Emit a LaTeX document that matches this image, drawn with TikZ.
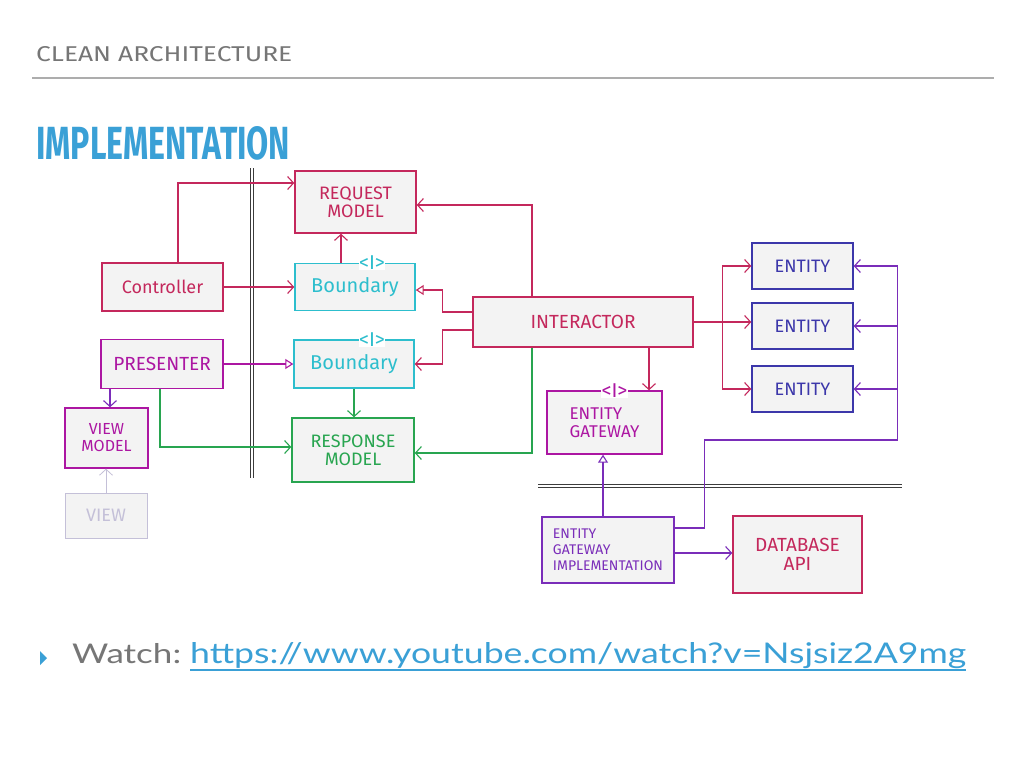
\documentclass[tikz,border=0pt]{standalone}
\usepackage{fontspec}
\usepackage{graphicx}
\setmainfont{Fira Sans}
\newfontfamily\slidefont{Lato}
\usetikzlibrary{arrows.meta, positioning}
\definecolor{crim}{RGB}{196, 40, 92}
\definecolor{cyanb}{RGB}{45, 190, 205}
\definecolor{magb}{RGB}{172, 22, 162}
\definecolor{purp}{RGB}{122, 45, 185}
\definecolor{indigob}{RGB}{60, 55, 170}
\definecolor{greenb}{RGB}{40, 165, 80}
\definecolor{viewgray}{RGB}{196, 192, 216}
\definecolor{boxgray}{RGB}{243, 243, 243}
\definecolor{titleblue}{RGB}{58, 160, 214}
\definecolor{headgray}{RGB}{118, 118, 118}
\definecolor{darkline}{RGB}{60, 60, 60}

\tikzset{
  handbox/.style={draw=#1, text=#1, fill=boxgray, line width=1.4pt, align=center, inner sep=2pt},
  boxsize/.style 2 args={minimum width=#1, minimum height=#2},
  wire/.style={line width=1.1pt, -{Straight Barb[length=6pt,width=13pt]}},
  implements/.style={line width=1.1pt, -{Triangle[open,length=8pt,width=10pt]}},
  iface/.style={text=#1, font=\fontsize{20}{20}\selectfont, inner sep=0.5pt, fill=white},
}

\begin{document}
\begin{tikzpicture}[x=1pt, y=-1pt]
\useasboundingbox (0,0) rectangle (1024,768);
\fill[white] (0,0) rectangle (1024,768);

% Slide header
\node[anchor=west, text=headgray, inner sep=0] (head) at (36,54.5) {\resizebox{256pt}{15pt}{CLEAN ARCHITECTURE}};
\draw[headgray!60, line width=2pt] (32,78) -- (994,78);
\node[anchor=west, text=titleblue, inner sep=0] (title) at (36,143.5) {\resizebox{254pt}{33pt}{\bfseries IMPLEMENTATION}};

% Boundary lines
\draw[darkline, double, double distance=2.4pt, line width=0.9pt] (252,168) -- (252,478);
\draw[darkline, double, double distance=2.4pt, line width=0.9pt] (538,486) -- (902,486);

% Left side
\node[handbox=crim, boxsize={121pt}{48pt}, font=\fontsize{18}{19}\selectfont] (ctrl) at (162.5,287) {Controller};
\node[handbox=magb, boxsize={122pt}{49pt}, font=\fontsize{19}{20}\selectfont] (pres) at (162,364) {PRESENTER};
\node[handbox=magb, boxsize={83pt}{60pt}, font=\fontsize{16}{17}\selectfont] (vm) at (106.5,438) {VIEW\\MODEL};
\node[handbox=viewgray, line width=1pt, boxsize={82pt}{45pt}, font=\fontsize{18}{19}\selectfont] (view) at (106,515.5) {VIEW};

% Use case side
\node[handbox=crim, boxsize={121pt}{62pt}, font=\fontsize{18}{18}\selectfont] (req) at (355.5,202) {REQUEST\\MODEL};
\node[handbox=cyanb, boxsize={120pt}{47pt}, font=\fontsize{20}{21}\selectfont] (bnd1) at (355,287) {Boundary};
\node[handbox=cyanb, boxsize={120pt}{48pt}, font=\fontsize{20}{21}\selectfont] (bnd2) at (354,364) {Boundary};
\node[handbox=greenb, boxsize={122pt}{64pt}, font=\fontsize{18}{18}\selectfont] (resp) at (353,450) {RESPONSE\\MODEL};
\node[iface=cyanb] (bnd1i) at ([xshift=17pt]bnd1.north) {<I>};
\node[iface=cyanb] (bnd2i) at ([xshift=18pt]bnd2.north) {<I>};

\node[handbox=crim, boxsize={220pt}{50pt}, font=\fontsize{19}{20}\selectfont] (inter) at (583,322) {INTERACTOR};
\node[handbox=indigob, boxsize={101pt}{46pt}, font=\fontsize{18}{19}\selectfont] (ent1) at (802.5,266) {ENTITY};
\node[handbox=indigob, boxsize={101pt}{46pt}, font=\fontsize{18}{19}\selectfont] (ent2) at (802.5,326) {ENTITY};
\node[handbox=indigob, boxsize={101pt}{46pt}, font=\fontsize{18}{19}\selectfont] (ent3) at (802.5,389) {ENTITY};
\node[handbox=magb, boxsize={115pt}{63pt}, font=\fontsize{17}{18}\selectfont, align=left] (egw) at (604.5,422.5) {ENTITY\\GATEWAY};
\node[iface=magb] (egwi) at ([xshift=10pt]egw.north) {<I>};

% Outer side
\node[handbox=purp, boxsize={132pt}{66pt}, font=\fontsize{14}{16}\selectfont, align=left] (egi) at (608,550) {ENTITY\\GATEWAY\\IMPLEMENTATION};
\node[handbox=crim, boxsize={129pt}{77pt}, font=\fontsize{19}{19}\selectfont] (db) at (797.5,554.5) {DATABASE\\API};

% Controller and request path
\draw[wire, crim] ([xshift=15.5pt]ctrl.north) |- ([yshift=19pt]req.west);
\draw[wire, crim] (ctrl) -- (bnd1);
\draw[wire, crim] ([xshift=-14pt]bnd1.north) coordinate (br) -- (br |- req.south);
\draw[wire, crim] ([xshift=-51pt]inter.north) |- ([yshift=-3pt]req.east);
\draw[implements, crim] ([yshift=10pt]inter.west) -- ++(-30,0) |- ([yshift=-3pt]bnd1.east);
\draw[wire, crim] ([yshift=-8pt]inter.west) -- ++(-30,0) |- (bnd2.east);

% Presenter and response path
\draw[implements, magb] (pres) -- (bnd2);
\draw[wire, purp] ([xshift=-52pt]pres.south) coordinate (pv) -- (pv |- vm.north);
\draw[wire, greenb] ([xshift=-2pt]pres.south) |- ([yshift=3pt]resp.west);
\draw[wire, greenb] (bnd2.south) -- (bnd2.south |- resp.north);
\draw[wire, greenb] ([xshift=-51pt]inter.south) |- ([yshift=-3pt]resp.east);
\draw[wire, viewgray, line width=0.8pt] (view.north) -- (view.north |- vm.south);

% Interactor to entities and gateway
\draw[wire, crim] ([xshift=66pt]inter.south) coordinate (ig) -- (ig |- egw.north);
\coordinate (fan) at ([xshift=29pt]inter.east);
\draw[wire, crim] (inter.east) -- (inter.east -| ent2.west);
\draw[wire, crim] (fan) |- (ent1.west);
\draw[wire, crim] (fan) |- (ent3.west);

% Gateway implementation
\draw[implements, purp] ([xshift=-5pt]egi.north) coordinate (gi) -- (gi |- egw.south);
\draw[wire, purp] ([yshift=-3pt]egi.east) -- ([yshift=-3pt]egi.east -| db.west);
\draw[purp, line width=1.1pt] ([yshift=22pt]egi.east) -- ++(30,0) -- ++(0,-88) -- ++(193,0) coordinate (bus);
\draw[wire, purp] (bus) |- (ent1.east);
\draw[wire, purp] (bus |- ent2.east) -- (ent2.east);
\draw[wire, purp] (bus |- ent3.east) -- (ent3.east);

% Link line
\fill[titleblue] (40,651) -- (47,658) -- (40,665) -- cycle;
\node[anchor=base west, text=headgray, inner sep=0, font=\slidefont] (watch) at (72,663) {\resizebox{109pt}{20pt}{Watch:}};
\node[anchor=base west, text=titleblue, inner sep=0, font=\slidefont] (url) at (190,663) {\resizebox{776pt}{21pt}{https://www.youtube.com/watch?v=Nsjsiz2A9mg}};
\draw[titleblue, line width=1.5pt] ([yshift=-7pt]url.base west) -- ([yshift=-7pt]url.base east);
\end{tikzpicture}
\end{document}
